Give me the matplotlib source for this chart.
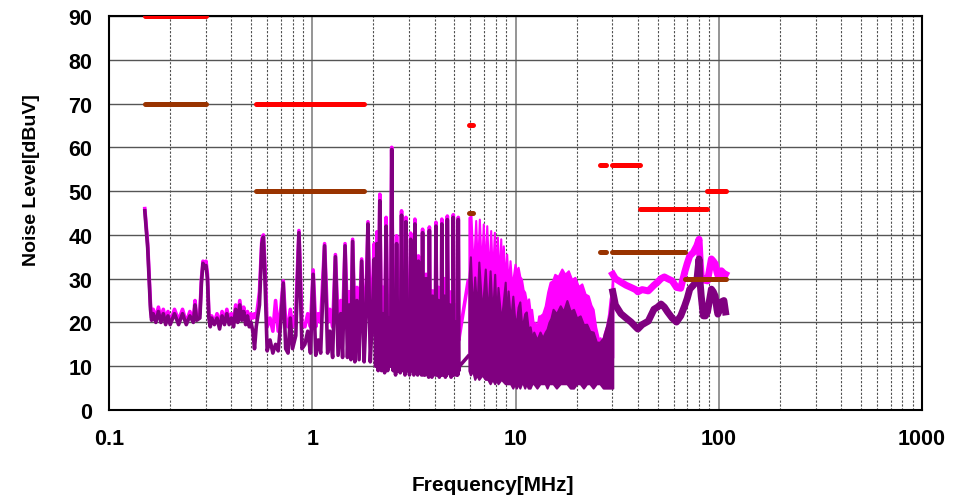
import matplotlib.pyplot as plt
from matplotlib.ticker import FuncFormatter, LogLocator, MultipleLocator

plt.rcParams['font.family'] = ['Liberation Sans', 'DejaVu Sans']

# --- spectrum, 0.15 - 5.9 MHz (discrete comb), shared frequency list
freq_lo = [0.15, 0.155, 0.16, 0.162, 0.165, 0.17, 0.175, 0.18, 0.185, 0.19, 0.195, 0.2,
           0.21, 0.22, 0.23, 0.24, 0.25, 0.26, 0.265, 0.27, 0.28, 0.285, 0.29, 0.295, 0.30,
           0.305, 0.31, 0.315, 0.32, 0.33, 0.34, 0.35, 0.36, 0.37, 0.38, 0.39, 0.40, 0.41,
           0.42, 0.43, 0.44, 0.45, 0.46, 0.47, 0.48, 0.49, 0.50, 0.51, 0.52, 0.53, 0.55,
           0.565, 0.575, 0.585, 0.60, 0.62, 0.64, 0.66, 0.68, 0.70, 0.72, 0.74, 0.76, 0.78,
           0.80, 0.83, 0.86, 0.89, 0.92, 0.95, 0.98, 1.01, 1.04, 1.07, 1.10, 1.15, 1.19,
           1.22, 1.26, 1.30, 1.34, 1.38, 1.41, 1.45, 1.49, 1.52, 1.55, 1.58, 1.62, 1.66,
           1.70, 1.75, 1.80, 1.84, 1.88, 1.93, 1.97, 2.02, 2.05, 2.08, 2.11, 2.15, 2.19,
           2.23, 2.27, 2.31, 2.35, 2.39, 2.43, 2.46, 2.50, 2.54, 2.57, 2.60, 2.64, 2.68,
           2.71, 2.75, 2.79, 2.83, 2.86, 2.89, 2.93, 2.97, 3.01, 3.05, 3.09, 3.13, 3.16,
           3.20, 3.24, 3.28, 3.30, 3.33, 3.37, 3.41, 3.45, 3.49, 3.53, 3.58, 3.60, 3.63,
           3.67, 3.71, 3.74, 3.77, 3.81, 3.86, 3.88, 3.91, 3.95, 4.00, 4.03, 4.06, 4.11,
           4.17, 4.22, 4.28, 4.31, 4.34, 4.39, 4.46, 4.52, 4.57, 4.59, 4.62, 4.68, 4.75,
           4.82, 4.88, 4.91, 4.94, 5.00, 5.07, 5.13, 5.17, 5.20, 5.23, 5.27, 5.30, 5.85]
peak_lo = [46, 38, 24, 21, 23, 21, 23.5, 21, 23, 20.5, 22.5, 20,
           23, 20.5, 23, 20, 22.5, 20.5, 25, 21, 22, 30, 34, 33, 34,
           31, 22, 19.5, 21.5, 20, 22, 19.5, 22.5, 20, 23, 20.5, 22, 20,
           24, 21, 25, 21.5, 23.5, 20.5, 22.5, 20.5, 22, 21, 22, 21, 27,
           39, 40, 33, 19, 21, 18, 25, 18, 23, 29.5, 20, 19, 23,
           19, 22, 41, 20, 19, 22, 19, 32, 19, 22, 20, 38, 20,
           23, 19, 35.5, 20, 25, 19, 38, 20, 27, 19, 39, 20, 28,
           19, 34.5, 20, 25, 43, 19, 26, 38, 17, 40.7, 16, 49.3, 18,
           28, 17, 44, 17, 26, 16, 60, 17, 30, 16, 39.8, 17, 24,
           16, 45.5, 17, 28, 16, 44, 17, 26, 15, 40.4, 16, 25, 15,
           43.6, 17, 22, 15, 35.2, 16, 27, 15, 41.3, 16, 26, 15, 31,
           16, 24, 15, 41.8, 16, 27, 15, 27.2, 16, 22, 15, 42.9, 16,
           28, 14, 24, 15, 43.6, 16, 30, 15, 25, 15, 44.3, 16, 27,
           15, 24, 15, 44.6, 16, 24, 14, 22, 15, 44, 16, 17, 29.5]
avg_lo = [45.5, 37, 23, 20.5, 22, 20, 22.5, 20, 22, 19.5, 21.5, 19.5,
          22, 19.5, 22, 19.5, 21.5, 20, 24, 20.5, 21, 29, 33.5, 32.5, 33,
          30, 21, 19, 21, 19.5, 21, 18.5, 21.5, 19.5, 22, 19.5, 21, 19,
          23, 20, 24, 20.5, 22.5, 19.5, 21.5, 19, 20, 18, 14, 19, 24,
          38, 39.5, 30, 13.5, 16, 13, 15, 13.5, 20, 29, 14, 13, 21,
          14, 17, 40.5, 14, 15, 18, 13, 31, 12.5, 16, 13, 37.5, 13,
          18, 12, 35, 12.5, 22, 12, 37.5, 12, 24, 11.5, 38.5, 11, 25,
          11.5, 34, 11, 22, 42.5, 11, 20, 34.5, 10, 38, 9, 47.8, 9,
          22, 8.5, 42, 9, 21, 10, 59.5, 9, 25, 8, 38, 9, 20,
          8.5, 44.5, 9, 24, 8, 43, 9, 22, 8, 39, 9, 20, 8,
          42.5, 9, 18, 8, 34, 9, 23, 8, 40.5, 8, 22, 8, 30,
          9, 19, 7.5, 41, 9, 24, 7.5, 26, 9, 18, 8, 42, 8,
          25, 7.5, 20, 8, 42.5, 8, 26, 7.5, 21, 8, 43.5, 8.5, 24,
          7.5, 20, 8, 44, 8, 20, 8, 18, 8, 43.5, 9, 10, 12.3]

# --- 5.9 - 30 MHz, dense band (upper edge, common floor)
band_f_peak = [5.90, 6.04, 6.2, 6.37, 6.5, 6.64, 6.8, 6.94, 7.08, 7.22, 7.4, 7.55, 7.7,
               7.87, 8.0, 8.14, 8.3, 8.46, 8.6, 8.71, 8.9, 9.05, 9.2, 9.40, 9.6, 9.94,
               10.1, 10.3, 10.5, 10.7, 10.9, 11.1, 11.35, 11.6, 11.8, 12.0, 12.25, 12.5,
               12.65, 12.8, 13.0, 13.2, 13.6, 14.0, 14.4, 14.8, 15.2, 15.6, 16.2, 16.9,
               17.5, 18.2, 18.9, 19.6, 20.4, 21.2, 22.0, 22.8, 23.5, 24.1, 24.8, 25.6,
               26.1, 26.6, 27.3, 28.1, 28.7, 29.2, 29.7, 30.1]
band_peak_hi = [44, 44.4, 31, 43.3, 31, 43.6, 31, 42.5, 31, 42.1, 30, 41, 30,
                40.6, 29, 39.5, 29, 39.1, 28, 37.5, 29, 35.6, 28, 34.1, 28, 33.3,
                31.5, 32.6, 30.5, 29.9, 27.5, 26.9, 24.5, 25.4, 22.5, 23, 19.5, 20,
                18.5, 19.3, 21.5, 21.5, 22, 23.8, 27, 29.2, 29.5, 31, 30.5, 32.2,
                31, 31.8, 29.8, 30.3, 28.2, 28.8, 26.5, 26.1, 24, 23, 19, 16.2,
                16.5, 15, 17.5, 19.3, 22, 25.4, 27, 31.8]
band_peak_floor = 12

band_f_avg = [5.90, 6.0, 6.15, 6.3, 6.45, 6.6, 6.85, 7.1, 7.3, 7.5, 7.7, 7.9, 8.05, 8.2,
              8.5, 8.9, 9.05, 9.2, 9.45, 9.7, 9.9, 10.1, 10.3, 10.5, 10.7, 10.9, 11.1,
              11.3, 11.55, 11.8, 12.05, 12.3, 12.75, 13.2, 13.6, 14.0, 14.3, 14.6, 14.95,
              15.3, 15.9, 16.6, 17.2, 17.9, 18.6, 19.3, 20.0, 20.8, 21.6, 22.4, 23.2,
              24.1, 25.0, 26.0, 27.0, 28.1, 29.0, 29.8, 30.1]
band_avg_hi = [30, 35, 22, 30.4, 22, 33.8, 22, 32.2, 21, 31.8, 21, 31, 20, 28,
               20, 29.2, 20, 27.2, 20, 26, 21, 20, 23.5, 24.7, 20, 20, 22,
               22.4, 18.5, 19, 16.5, 17.8, 16, 17.8, 16.5, 17.8, 18.5, 20, 21,
               23, 22, 23.8, 22.5, 25, 22.5, 23, 21, 21.5, 19.5, 19.6, 18,
               17.8, 15.5, 15.5, 16.5, 19.3, 22, 26.9, 27]
band_avg_lo = [9, 8, 9, 7, 8, 7, 8, 7, 7, 6, 7, 6, 7, 6,
               7, 6, 6, 6, 6, 5, 6, 5, 6, 5, 6, 6, 5,
               6, 5, 5, 6, 6, 5, 6, 6, 6, 5, 6, 6,
               6, 5, 6, 6, 6, 5, 5, 6, 6, 5, 6, 6,
               5, 6, 6, 5, 5, 5, 5, 5]

# --- 30 - 108 MHz
freq_hi = [30.1, 31, 33, 35, 37, 39, 40, 42, 45, 48, 50, 52, 54, 56, 59, 62, 65, 68,
           70, 72, 75, 78, 80, 81, 82, 84, 86, 88, 90, 92, 94, 96, 98, 99, 101, 103,
           106, 108]
peak_hi = [31, 30, 29.2, 28.5, 28, 27.5, 27, 27.5, 27.2, 28.5, 29.2, 30, 30.4, 30,
           29.5, 28, 27.8, 31.5, 33.5, 35.2, 36, 37.5, 39, 34, 30.6, 29.8, 29.6, 29.5,
           32, 34.5, 34, 33.4, 31.5, 30.8, 30.6, 31.8, 31.2, 31]
avg_hi = [27, 24, 22, 21, 20.1, 19, 18.5, 19.5, 20.3, 23, 23.5, 24.2, 23.5, 22.4,
          21, 20.1, 21.5, 23.8, 25.5, 27.6, 28.5, 29.5, 34.5, 29, 26, 21.5, 21.5, 22.4,
          25, 27.6, 27, 26, 23, 21.9, 23, 24.7, 25, 22.4]

# --- limit lines: (start MHz, stop MHz, level dBuV)
qp_limits = [(0.15, 0.3, 90), (0.53, 1.8, 70), (5.9, 6.2, 65), (26, 28, 56),
             (30, 41, 56), (41, 88, 46), (88, 108, 50)]
av_limits = [(0.15, 0.3, 70), (0.53, 1.8, 50), (5.9, 6.2, 45), (26, 28, 36),
             (30, 68, 36), (68, 108, 30)]

MAGENTA = '#ff00ff'
PURPLE = '#800080'
RED = '#ff0000'
BROWN = '#993300'

fig = plt.figure(figsize=(9.71, 5.02), dpi=100)
ax = fig.add_axes([109 / 971, 91 / 502, 813 / 971, 394 / 502])

# peak trace
ax.plot(freq_lo, peak_lo, color=MAGENTA, lw=2.6, zorder=3)
ax.fill_between(band_f_peak, band_peak_floor, band_peak_hi, color=MAGENTA, lw=1.5,
                edgecolor=MAGENTA, zorder=3)
ax.plot(freq_hi, peak_hi, color=MAGENTA, lw=5, zorder=3)

# average trace
ax.plot(freq_lo, avg_lo, color=PURPLE, lw=2.6, zorder=4)
ax.fill_between(band_f_avg, band_avg_lo, band_avg_hi, color=PURPLE, lw=1.5,
                edgecolor=PURPLE, zorder=4)
ax.plot(freq_hi, avg_hi, color=PURPLE, lw=5, zorder=4)

for f0, f1, lvl in qp_limits:
    ax.plot([f0, f1], [lvl, lvl], color=RED, lw=3.6, solid_capstyle='round', zorder=5)
for f0, f1, lvl in av_limits:
    ax.plot([f0, f1], [lvl, lvl], color=BROWN, lw=3.6, solid_capstyle='round', zorder=5)

ax.set_xscale('log')
ax.set_xlim(0.1, 1000)
ax.set_ylim(0, 90)
ax.yaxis.set_major_locator(MultipleLocator(10))
ax.xaxis.set_major_locator(LogLocator(base=10))
ax.xaxis.set_minor_locator(LogLocator(base=10, subs=range(2, 10)))
ax.xaxis.set_major_formatter(FuncFormatter(lambda x, pos: '{0:g}'.format(x)))
ax.xaxis.set_minor_formatter(FuncFormatter(lambda x, pos: ''))

ax.grid(True, axis='y', which='major', color='#555555', lw=1.0)
ax.grid(True, axis='x', which='major', color='#8c8c8c', lw=1.3)
ax.grid(True, axis='x', which='minor', color='#505050', lw=0.8, linestyle=(0, (2, 1.5)))
ax.set_axisbelow(True)

for sp in ax.spines.values():
    sp.set_linewidth(1.5)
    sp.set_color('black')

ax.tick_params(axis='both', which='both', length=0)
ax.tick_params(axis='x', pad=13, labelsize=15.5)
ax.tick_params(axis='y', pad=12, labelsize=15.5)
for lab in ax.get_xticklabels() + ax.get_yticklabels():
    lab.set_fontweight('bold')

fig.text(493 / 971, 1 - 486 / 502, 'Frequency[MHz]', ha='center', va='center',
         fontsize=15, fontweight='bold')
fig.text(31 / 971, 1 - 180 / 502, 'Noise Level[dBuV]', ha='center', va='center',
         rotation=90, fontsize=14, fontweight='bold')

fig.savefig('out.png', dpi=100)
